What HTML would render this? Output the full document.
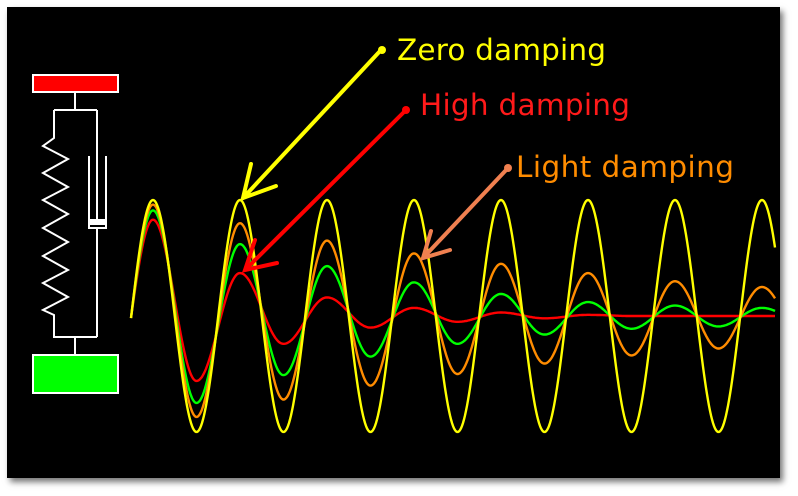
<!DOCTYPE html>
<html><head><meta charset="utf-8"><style>
html,body{margin:0;padding:0;background:#fff;width:798px;height:496px;overflow:hidden}
#panel{position:absolute;left:7px;top:7px;width:773px;height:471px;background:#000;box-shadow:3px 4px 6px rgba(0,0,0,0.55)}
svg{position:absolute;left:0;top:0}
text{font-family:"DejaVu Sans","Liberation Sans",sans-serif;font-size:29.5px}
</style></head><body>
<div id="panel"></div>
<svg id="chart" width="798" height="496">
 <g fill="none" stroke="#fff" stroke-width="2">
  <rect x="33" y="75" width="85" height="17" fill="#f00"/>
  <rect x="33" y="355" width="85" height="38" fill="#0f0"/>
  <path d="M75 92V110M54 110H97M54 110V138L43 146L68 159L43 173L68 187L43 200L68 214L43 228L68 242L43 256L68 270L43 283L68 297L43 310L54 315V337H97M75 337V355"/>
  <path d="M97 110V222M89 156V228H106V156M97 228V337"/>
  <rect x="89" y="220" width="17" height="4" fill="#fff"/>
 </g>
 <g id="series"></g>
 <g stroke-width="4" stroke-linecap="round" fill="none">
  <g stroke="#ffff00"><path d="M381 50L243 198M251 164L243 198L276 186"/></g>
  <g stroke="#ff0000"><path d="M406 110L245 270M255 240L245 270L277 263"/></g>
  <g stroke="#f08050"><path d="M508 168L423 258M431 231L423 258L450 250"/></g>
  <circle cx="382" cy="50" r="4" fill="#ff0" stroke="none"/>
  <circle cx="406" cy="110" r="4" fill="#f00" stroke="none"/>
  <circle cx="508" cy="168" r="4" fill="#f08050" stroke="none"/>
 </g>
 <text x="397" y="60" fill="#ffff00" textLength="209">Zero damping</text>
 <text x="420" y="115" fill="#ff1a1a" textLength="210">High damping</text>
 <text x="516" y="177" fill="#ff8c00" textLength="218">Light damping</text>
</svg>
<script>
// extreme values per half-cycle (k=0 first peak), normalized displacement
const zeroDamping = [1,-1,1,-1,1,-1,1,-1,1,-1,1,-1,1,-1,1,-1];
const lightDamping = [0.96,-0.87,0.80,-0.72,0.65,-0.60,0.54,-0.50,0.45,-0.41,0.37,-0.34,0.30,-0.28,0.25,-0.23];
const mediumDamping = [0.91,-0.75,0.62,-0.51,0.43,-0.35,0.29,-0.24,0.19,-0.16,0.12,-0.11,0.09,-0.09,0.07,-0.06];
const highDamping = [0.83,-0.56,0.37,-0.24,0.16,-0.10,0.07,-0.05,0.03,-0.02,0.01,0,0,0,0,0];
const xStart=131, xEnd=775, x0=153, half=43.5;
function xScale(k){return x0+k*half;}
function yScale(v){return 316-v*116;}
const g=document.getElementById('series');
function draw(vals,color,name){
  const ext=[-vals[0]].concat(vals);
  let d='';
  for(let x=xStart;x<=xEnd;x+=1){
    const t=(x-x0)/half+1; let i=Math.floor(t); if(i>=ext.length-1)i=ext.length-2;
    const f=t-i, a=ext[i], b=ext[i+1];
    const v=a+(b-a)*(1-Math.cos(Math.PI*f))/2;
    d+=(d?'L':'M')+x+' '+yScale(v).toFixed(1);
  }
  const p=document.createElementNS('http://www.w3.org/2000/svg','path');
  p.setAttribute('d',d);p.setAttribute('fill','none');p.setAttribute('stroke',color);p.setAttribute('stroke-width','2.4');
  
  
  g.appendChild(p);
}
draw(highDamping,'#ff0000','high-damping-line');
draw(mediumDamping,'#00ff00','medium-damping-line');
draw(lightDamping,'#ff8c00','light-damping-line');
draw(zeroDamping,'#ffff00','zero-damping-line');
</script>
</body></html>
